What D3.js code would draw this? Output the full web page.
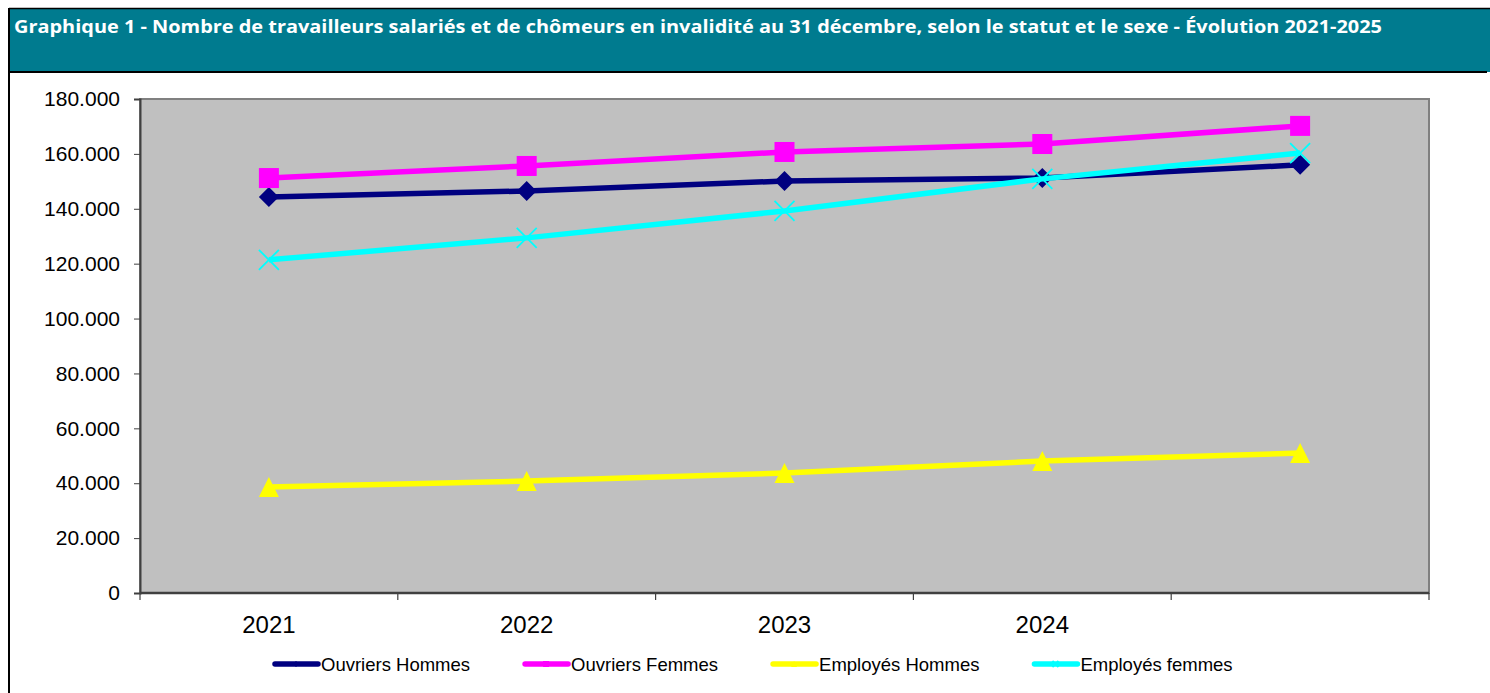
<!DOCTYPE html>
<html>
<head>
<meta charset="utf-8">
<script src="https://cdn.jsdelivr.net/npm/d3@7"></script>
<style>
  body { margin: 0; background: #fff; }
  svg { display: block; }
</style>
</head>
<body>
<div id="viz"></div>
<script>
var years = ['2021', '2022', '2023', '2024', '2025'];
var yearLabels = ['2021', '2022', '2023', '2024', ''];
var yTicks = [0, 20000, 40000, 60000, 80000, 100000, 120000, 140000, 160000, 180000];
var ouvriersHommes = [144300, 146500, 150100, 151200, 156000];
var ouvriersFemmes = [151200, 155600, 160700, 163600, 170200];
var employesHommes = [38600, 40800, 43700, 48100, 51000];
var employesFemmes = [121400, 129400, 139200, 150900, 160300];
var seriesNames = ['Ouvriers Hommes', 'Ouvriers Femmes', 'Employés Hommes', 'Employés femmes'];

var title = 'Graphique 1 - Nombre de travailleurs salariés et de chômeurs en invalidité au 31 décembre, selon le statut et le sexe - Évolution 2021-2025';

var width = 1490, height = 693;
var margin = { top: 99, right: 61, bottom: 100, left: 140 };
var plotW = width - margin.left - margin.right,
  plotH = height - margin.top - margin.bottom;

var series = [
  { name: seriesNames[0], values: ouvriersHommes, color: '#000080', marker: 'diamond' },
  { name: seriesNames[1], values: ouvriersFemmes, color: '#FF00FF', marker: 'square' },
  { name: seriesNames[2], values: employesHommes, color: '#FFFF00', marker: 'triangle' },
  { name: seriesNames[3], values: employesFemmes, color: '#00FFFF', marker: 'cross' }
];

var svg = d3.select('#viz').append('svg')
  .attr('width', width)
  .attr('height', height);

// title band
svg.append('rect')
  .attr('x', 9).attr('y', 8)
  .attr('width', width - 9).attr('height', 64)
  .attr('fill', '#007B8F');
svg.append('line')
  .attr('x1', 9).attr('x2', width).attr('y1', 8.5).attr('y2', 8.5)
  .attr('stroke', '#000').attr('stroke-width', 1.5);
svg.append('line')
  .attr('x1', 9).attr('x2', 1487).attr('y1', 72).attr('y2', 72)
  .attr('stroke', '#000').attr('stroke-width', 2);
svg.append('line')
  .attr('x1', 9).attr('x2', 9).attr('y1', 8).attr('y2', height)
  .attr('stroke', '#000').attr('stroke-width', 2);

svg.append('text')
  .attr('x', 14).attr('y', 33)
  .attr('fill', '#fff')
  .style('font', 'bold 17px "Open Sans", "Noto Sans", sans-serif')
  .attr('textLength', 1368)
  .attr('lengthAdjust', 'spacingAndGlyphs')
  .text(title);

var xScale = d3.scaleBand()
  .domain(years)
  .range([0, plotW]);

var yScale = d3.scaleLinear()
  .domain([0, 180000])
  .range([plotH, 0]);

var g = svg.append('g')
  .attr('transform', 'translate(' + margin.left + ',' + margin.top + ')');

g.append('rect')
  .attr('width', plotW).attr('height', plotH)
  .attr('fill', '#C0C0C0')
  .attr('stroke', '#808080')
  .attr('stroke-width', 2);

var fmt = function(d) {
  return d3.format(',')(d).replace(/,/g, '.');
};

var yAxis = g.append('g')
  .call(d3.axisLeft(yScale).tickValues(yTicks).tickFormat(fmt).tickSize(6).tickPadding(14));
yAxis.select('.domain').attr('stroke', '#404040').attr('stroke-width', 2);
yAxis.selectAll('.tick line').attr('stroke', '#404040');
yAxis.selectAll('text')
  .style('font', '21px "Liberation Sans", Arial, sans-serif')
  .attr('fill', '#000');

// x axis ticks at band boundaries
var xAxis = g.append('g')
  .attr('transform', 'translate(0,' + plotH + ')');
xAxis.append('line')
  .attr('x1', 0).attr('x2', plotW)
  .attr('stroke', '#404040').attr('stroke-width', 2.5);
var bounds = years.map(function(d) { return xScale(d); }).concat([plotW]);
xAxis.selectAll('.xtick').data(bounds).enter().append('line')
  .attr('class', 'xtick')
  .attr('x1', function(d) { return d; }).attr('x2', function(d) { return d; })
  .attr('y1', 0).attr('y2', 7)
  .attr('stroke', '#404040').attr('stroke-width', 1.2);
xAxis.selectAll('.xlabel').data(years).enter().append('text')
  .attr('class', 'xlabel')
  .attr('x', function(d) { return xScale(d) + xScale.bandwidth() / 2; })
  .attr('y', 40)
  .attr('text-anchor', 'middle')
  .style('font', '24px "Liberation Sans", Arial, sans-serif')
  .text(function(d, i) { return yearLabels[i]; });

var cx = function(d, i) { return xScale(years[i]) + xScale.bandwidth() / 2; };

var line = d3.line()
  .x(cx)
  .y(function(d) { return yScale(d); });

function drawMarker(sel, type, color, s) {
  if (type === 'diamond') {
    sel.append('path').attr('d', 'M0,' + (-s) + 'L' + s + ',0L0,' + s + 'L' + (-s) + ',0Z').attr('fill', color);
  } else if (type === 'square') {
    sel.append('rect').attr('x', -s).attr('y', -s).attr('width', 2 * s).attr('height', 2 * s).attr('fill', color);
  } else if (type === 'triangle') {
    sel.append('path').attr('d', 'M0,' + (-s) + 'L' + s + ',' + s + 'L' + (-s) + ',' + s + 'Z').attr('fill', color);
  } else {
    sel.append('path').attr('d', 'M' + (-s) + ',' + (-s) + 'L' + s + ',' + s + 'M' + s + ',' + (-s) + 'L' + (-s) + ',' + s)
      .attr('stroke', color).attr('stroke-width', 1.8).attr('fill', 'none');
  }
}

series.forEach(function(s) {
  var sg = g.append('g');
  sg.append('path')
    .datum(s.values)
    .attr('d', line)
    .attr('fill', 'none')
    .attr('stroke', s.color)
    .attr('stroke-width', 5.5);
  sg.selectAll('.m').data(s.values).enter().append('g')
    .attr('class', 'm')
    .attr('transform', function(d, i) { return 'translate(' + cx(d, i) + ',' + yScale(d) + ')'; })
    .each(function() { drawMarker(d3.select(this), s.marker, s.color, 10); });
});

// legend
var legend = svg.append('g').attr('transform', 'translate(273,664)');
var lx = 0;
series.forEach(function(s) {
  var it = legend.append('g').attr('transform', 'translate(' + lx + ',0)');
  it.append('line')
    .attr('x1', 2).attr('x2', 45).attr('y1', 0).attr('y2', 0)
    .attr('stroke', s.color).attr('stroke-width', 5.5).attr('stroke-linecap', 'round');
  drawMarker(it.append('g').attr('transform', 'translate(23,0)'), s.marker, s.color, 3);
  var t = it.append('text')
    .attr('x', 48).attr('y', 6.5)
    .style('font', '18.5px "Liberation Sans", Arial, sans-serif')
    .attr('fill', '#000')
    .text(s.name);
  lx += 48 + t.node().getComputedTextLength() + 53;
});
</script>
</body>
</html>
